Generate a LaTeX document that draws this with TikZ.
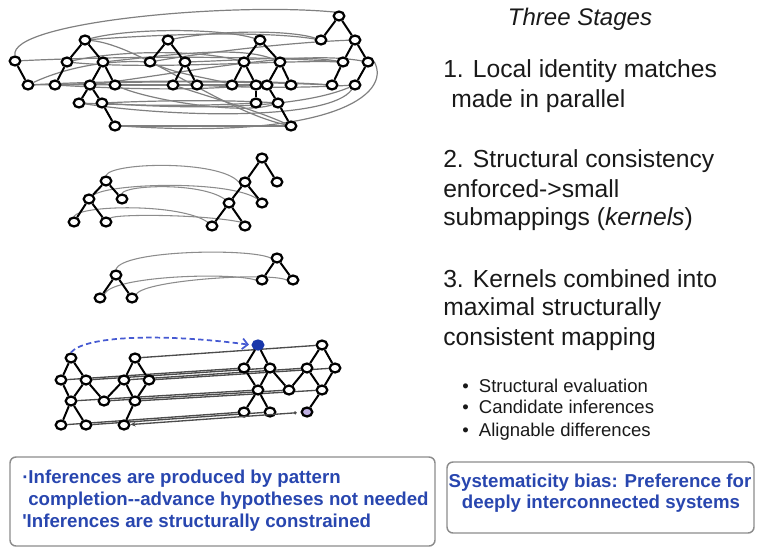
\documentclass[tikz,border=0pt]{standalone}
\usepackage{fontspec}
\setmainfont{Liberation Sans}
\usetikzlibrary{shapes.geometric,arrows.meta}
\pgfdeclarelayer{bg}
\pgfsetlayers{bg,main}
\definecolor{boxblue}{RGB}{40,70,175}
\definecolor{dashblue}{RGB}{70,90,210}
\definecolor{nodeblue}{RGB}{25,55,170}
\definecolor{lav}{RGB}{190,175,225}
\definecolor{txt}{RGB}{25,25,25}
\tikzset{
 tn/.style={ellipse, draw=black, line width=1.7pt, fill=white, minimum width=7.9pt, minimum height=6.7pt, inner sep=0pt},
 te/.style={line width=1.5pt, draw=black},
 gc/.style={line width=0.9pt, draw=black!50},
 lc/.style={line width=0.8pt, draw=black!45},
 mc/.style={line width=1pt, draw=black!70},
 stxt/.style={anchor=base west, inner sep=0pt, font=\fontsize{18.5}{22}\selectfont, text=txt},
 btxt/.style={anchor=base west, inner sep=0pt, font=\fontsize{13.9}{16}\selectfont, text=txt},
 bx/.style={draw=black!45, line width=1.1pt, rounded corners=4.5pt, inner sep=0pt},
 bb/.style={anchor=base west, inner sep=0pt, font=\fontsize{14}{16}\selectfont\bfseries, text=boxblue},
}
\begin{document}
\begin{tikzpicture}[x=0.75pt,y=-0.75pt]
\useasboundingbox (0,0) rectangle (757,547);

% ---------- Stage 1 ----------
\node[tn] (a1) at (15,61) {};
\node[tn] (a2) at (28,85) {};
\node[tn] (b1) at (85,40) {};
\node[tn] (b2) at (67,62) {};
\node[tn] (b3) at (103,62) {};
\node[tn] (b4) at (55,85) {};
\node[tn] (b5) at (90,85) {};
\node[tn] (b6) at (115,85) {};
\node[tn] (b7) at (79,103) {};
\node[tn] (b8) at (102,103) {};
\node[tn] (b9) at (115,126) {};
\node[tn] (c1) at (168,40) {};
\node[tn] (c2) at (150,62) {};
\node[tn] (c3) at (185,62) {};
\node[tn] (c4) at (173,85) {};
\node[tn] (c5) at (197,85) {};
\node[tn] (d1) at (260,40) {};
\node[tn] (d2) at (244,62) {};
\node[tn] (d3) at (280,62) {};
\node[tn] (d4) at (232,85) {};
\node[tn] (d5) at (256,85) {};
\node[tn] (d6) at (267,85) {};
\node[tn] (d7) at (291,85) {};
\node[tn] (d8) at (256,103) {};
\node[tn] (d9) at (278,103) {};
\node[tn] (d10) at (291,126) {};
\node[tn] (e1) at (339,16) {};
\node[tn] (e2) at (321,40) {};
\node[tn] (e3) at (355,40) {};
\node[tn] (e4) at (343,62) {};
\node[tn] (e5) at (368,62) {};
\node[tn] (e6) at (332,85) {};
\node[tn] (e7) at (355,85) {};
\foreach \u/\v in {a1/a2,b1/b2,b1/b3,b2/b4,b3/b5,b3/b6,b5/b7,b5/b8,b8/b9,
  c1/c2,c1/c3,c3/c4,c3/c5,d1/d2,d1/d3,d2/d4,d2/d5,d3/d6,d3/d7,d5/d8,d6/d9,d9/d10,
  e1/e2,e1/e3,e3/e4,e3/e5,e4/e6,e5/e7}
  \draw[te] (\u) -- (\v);

\begin{pgfonlayer}{bg}
\draw[gc] (a1.north) .. controls (8,22) and (230,2) .. (e1.north west);
\draw[gc] (b9.east) .. controls (330,140) and (392,95) .. (e5.east);
\draw[gc] (a1) .. controls (120,56) and (260,56) .. (e4);
\draw[gc] (a2) .. controls (100,84) and (180,86) .. (d4);
\draw[gc] (a2) .. controls (120,80) and (260,80) .. (e6);
\draw[gc] (b4) .. controls (150,80) and (260,82) .. (e6);
\draw[gc] (b4) .. controls (140,90) and (200,90) .. (d5);
\draw[gc] (b6) -- (d6);
\draw[gc] (c5) .. controls (250,88) and (300,88) .. (e7);
\draw[gc] (c2) .. controls (180,75) and (210,78) .. (d4);
\draw[gc] (b7) .. controls (150,106) and (200,106) .. (d8);
\draw[gc] (b8) .. controls (170,100) and (230,100) .. (d9);
\draw[gc] (b8) .. controls (200,110) and (300,108) .. (e7);
\draw[gc] (b9) -- (d10);
\draw[gc] (b1) .. controls (140,45) and (220,110) .. (d10);
\draw[gc] (b1) .. controls (130,28) and (220,28) .. (d1);
\draw[gc] (b1) .. controls (150,35) and (260,30) .. (e2);
\draw[gc] (c1) .. controls (220,30) and (290,30) .. (e2);
\draw[gc] (b2) .. controls (120,50) and (200,50) .. (d2);
\draw[gc] (b2) .. controls (150,70) and (280,60) .. (e4);
\draw[gc] (b3) .. controls (170,55) and (240,45) .. (d3);
\draw[gc] (c2) .. controls (220,50) and (300,42) .. (e3);
\draw[gc] (c3) .. controls (250,60) and (300,55) .. (e4);
\draw[gc] (a2) .. controls (60,70) and (100,60) .. (c2);
\draw[gc] (b5) .. controls (200,70) and (300,50) .. (e5);
\draw[gc] (c4) .. controls (220,100) and (260,112) .. (d10);
\draw[gc] (b7) .. controls (180,118) and (330,120) .. (e7);
\draw[gc] (b6) .. controls (150,100) and (240,115) .. (d9);
\end{pgfonlayer}

% ---------- Stage 2 ----------
\node[tn] (f1) at (106,181) {};
\node[tn] (f2) at (89,199) {};
\node[tn] (f3) at (122,199) {};
\node[tn] (f4) at (74,222) {};
\node[tn] (f5) at (106,222) {};
\node[tn] (g1) at (262,158) {};
\node[tn] (g2) at (245,182) {};
\node[tn] (g3) at (277,182) {};
\node[tn] (g4) at (229,203) {};
\node[tn] (g5) at (262,203) {};
\node[tn] (g6) at (212,226) {};
\node[tn] (g7) at (245,226) {};
\foreach \u/\v in {f1/f2,f1/f3,f2/f4,f2/f5,g1/g2,g1/g3,g2/g4,g2/g5,g4/g6,g4/g7}
  \draw[te] (\u) -- (\v);
\begin{pgfonlayer}{bg}
\draw[lc] (f1.north) .. controls (112,162) and (220,160) .. (g2.west);
\draw[lc] (f2.north east) .. controls (110,183) and (230,180) .. (g5.north west);
\draw[lc] (f3.north) .. controls (126,185) and (200,182) .. (g4.north west);
\draw[lc] (f4.north) .. controls (80,205) and (180,203) .. (g6.north west);
\draw[lc] (f5.north east) .. controls (115,214) and (200,214) .. (g7.north west);
\end{pgfonlayer}

% ---------- Stage 3 ----------
\node[tn] (h1) at (116,275) {};
\node[tn] (h2) at (100,298) {};
\node[tn] (h3) at (132,298) {};
\node[tn] (i1) at (277,258) {};
\node[tn] (i2) at (262,280) {};
\node[tn] (i3) at (293,280) {};
\foreach \u/\v in {h1/h2,h1/h3,i1/i2,i1/i3}
  \draw[te] (\u) -- (\v);
\begin{pgfonlayer}{bg}
\draw[lc] (h1.north) .. controls (122,250) and (250,248) .. (i1.west);
\draw[lc] (h2.north east) .. controls (112,276) and (230,272) .. (i2.west);
\draw[lc] (h3.north east) .. controls (145,280) and (270,272) .. (i3.west);
\end{pgfonlayer}

% ---------- Stage 4 ----------
\node[tn] (j1) at (71,358) {};
\node[tn] (j2) at (135,358) {};
\node[tn] (j3) at (61,380) {};
\node[tn] (j4) at (86,380) {};
\node[tn] (j5) at (124,380) {};
\node[tn] (j6) at (149,380) {};
\node[tn] (j7) at (71,401) {};
\node[tn] (j8) at (104,401) {};
\node[tn] (j9) at (135,401) {};
\node[tn] (j10) at (61,425) {};
\node[tn] (j11) at (86,425) {};
\node[tn] (j12) at (124,425) {};
\node[tn, fill=nodeblue, draw=nodeblue] (k1) at (258,345) {};
\node[tn] (k2) at (322,345) {};
\node[tn] (k3) at (244,368) {};
\node[tn] (k4) at (270,368) {};
\node[tn] (k5) at (307,368) {};
\node[tn] (k6) at (335,368) {};
\node[tn] (k7) at (258,390) {};
\node[tn] (k8) at (289,390) {};
\node[tn] (k9) at (322,390) {};
\node[tn] (k10) at (244,412) {};
\node[tn] (k11) at (270,412) {};
\node[tn, fill=lav] (k12) at (307,412) {};
\foreach \p in {j,k}{
 \foreach \u/\v in {1/3,1/4,2/5,2/6,3/7,4/7,4/8,8/5,5/9,6/9,7/10,7/11,9/12}
  \draw[te] (\p\u) -- (\p\v);
}
\begin{pgfonlayer}{bg}
\foreach \n in {2,3,4,5,6,7,8,9,10,11}
  \draw[mc] (j\n) -- (k\n);
\end{pgfonlayer}
\draw[mc, {Stealth[length=4pt,width=3.5pt]}-{Circle[length=2.2pt]}, shorten >=3pt] (j12) -- (k12);
\draw[dashblue, line width=1.3pt, dash pattern=on 4pt off 2.5pt,
  -{Straight Barb[length=4pt,width=8pt]}, shorten >=2pt]
  (j1.north) .. controls (85,336) and (160,333) .. (k1.west);

% ---------- Right text ----------
\node[anchor=base, inner sep=0pt, font=\fontsize{18}{22}\selectfont\itshape, text=txt] (title) at (580,25) {Three Stages};
\node[stxt] (s1a) at (443,77) {1. Local identity matches};
\node[stxt] (s1b) at (451,107) {made in parallel};
\node[stxt] (s2a) at (443,167) {2. Structural consistency};
\node[stxt] (s2b) at (443,197) {enforced->small};
\node[stxt] (s2c) at (443,225) {submappings (\textit{kernels})};
\node[stxt] (s3a) at (443,287) {3. Kernels combined into};
\node[stxt] (s3b) at (443,315) {maximal structurally};
\node[stxt] (s3c) at (443,345) {consistent mapping};
\node[btxt] (u1) at (462,392) {\makebox[12.5pt][l]{•}Structural evaluation};
\node[btxt] (u2) at (462,413) {\makebox[12.5pt][l]{•}Candidate inferences};
\node[btxt] (u3) at (462,436) {\makebox[12.5pt][l]{•}Alignable differences};

% ---------- Bottom boxes ----------
\node[bx, minimum width=318.75pt, minimum height=66.75pt] (lbox) at (222.5,501.5) {};
\node[bb] (l1) at (22,483) {·Inferences are produced by pattern};
\node[bb] (l2) at (28,505) {completion{-}{-}advance hypotheses not needed};
\node[bb] (l3) at (22,527) {\textquotesingle Inferences are structurally constrained};
\node[bx, minimum width=230.25pt, minimum height=53.25pt] (rbox) at (600.5,497.5) {};
\node[bb, anchor=base] (r1) at (600,487) {Systematicity bias: Preference for};
\node[bb, anchor=base] (r2) at (601,508) {deeply interconnected systems};
\end{tikzpicture}
\end{document}
